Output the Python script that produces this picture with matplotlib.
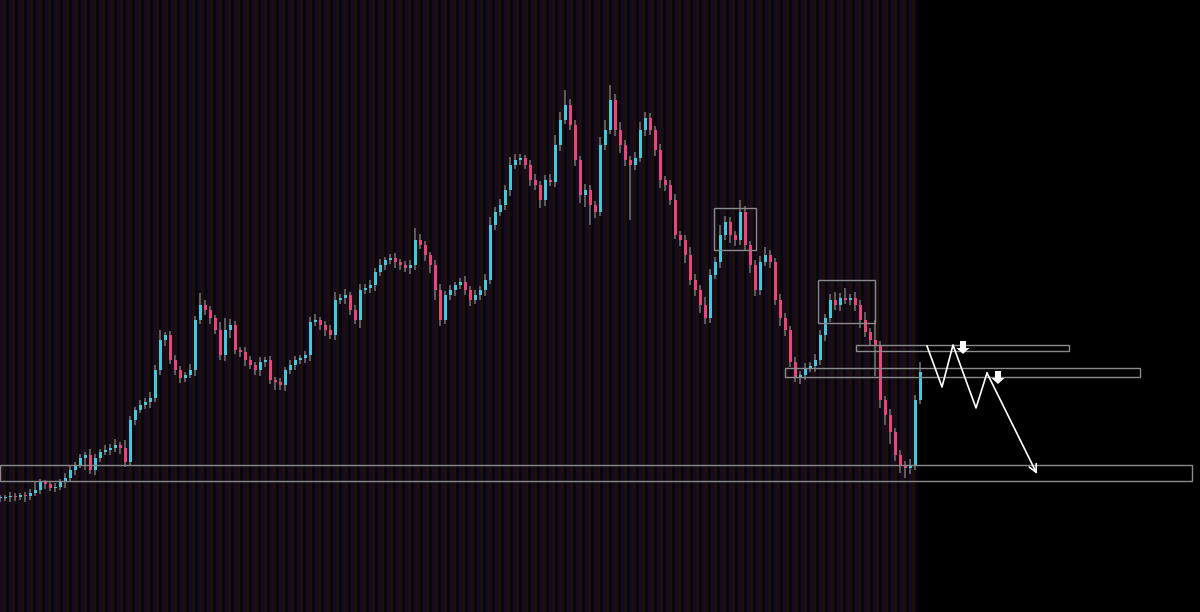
# Grafico de velas con zonas y proyeccion
import numpy as np
import matplotlib.pyplot as plt
from matplotlib.patches import Rectangle

# DATOS (cierres, una vela cada 5 unidades de x)
cierres = [114, 115, 116, 115, 117, 116, 119, 122, 130, 128, 124, 125, 130, 134, 142, 147, 154, 157, 142, 154,
           160, 162, 164, 167, 164, 150, 192, 202, 207, 210, 214, 242, 272, 277, 252, 242, 234, 237, 242, 292,
           307, 302, 294, 282, 257, 282, 287, 262, 260, 252, 247, 242, 250, 252, 232, 230, 227, 242, 247, 252,
           254, 257, 290, 292, 287, 282, 277, 312, 314, 317, 302, 292, 322, 324, 327, 340, 347, 352, 354, 350,
           347, 344, 347, 372, 367, 357, 347, 322, 292, 317, 322, 327, 330, 322, 312, 317, 322, 332, 387, 400,
           407, 422, 447, 452, 454, 447, 432, 427, 412, 432, 430, 467, 492, 507, 487, 452, 417, 422, 407, 400,
           467, 482, 512, 482, 467, 452, 447, 454, 482, 494, 482, 462, 432, 427, 412, 377, 372, 357, 332, 322,
           307, 294, 337, 350, 377, 390, 377, 372, 400, 367, 347, 322, 350, 357, 350, 312, 294, 282, 250, 234,
           237, 244, 246, 252, 277, 294, 312, 307, 314, 312, 314, 307, 292, 280, 272, 266, 212, 197, 180, 157,
           147, 144, 147, 212, 240]

mecha_sup = [3, 2, 4, 3, 2, 3, 4, 8, 3, 2, 3, 4, 3, 5, 4, 3, 4, 3, 6, 4,
             3, 5, 4, 6, 3, 8, 4, 3, 5, 4, 6, 5, 10, 3, 4, 5, 4, 3, 6, 4,
             12, 5, 4, 3, 8, 12, 6, 4, 3, 5, 4, 3, 5, 3, 4, 3, 4, 3, 5, 4,
             3, 4, 5, 6, 3, 4, 5, 8, 4, 6, 3, 5, 6, 4, 5, 4, 6, 3, 4, 5,
             3, 4, 5, 12, 6, 4, 3, 5, 6, 4, 5, 3, 4, 6, 4, 5, 4, 6, 8, 5,
             6, 5, 8, 6, 4, 3, 5, 6, 4, 5, 6, 10, 8, 15, 6, 5, 4, 6, 5, 4,
             8, 10, 15, 6, 8, 5, 4, 6, 8, 6, 5, 4, 6, 4, 5, 6, 4, 5, 8, 6,
             5, 8, 6, 5, 10, 6, 5, 4, 12, 6, 4, 5, 6, 8, 5, 4, 6, 5, 4, 5,
             4, 5, 4, 6, 5, 4, 6, 8, 5, 10, 4, 6, 5, 8, 4, 20, 5, 4, 6, 4,
             5, 4, 6, 5, 10]

mecha_inf = [4, 3, 5, 4, 3, 6, 4, 3, 4, 5, 3, 4, 3, 6, 4, 5, 3, 12, 4, 5,
             4, 3, 5, 4, 6, 5, 4, 5, 3, 4, 6, 4, 5, 6, 4, 5, 5, 4, 3, 6,
             4, 5, 6, 4, 5, 6, 8, 4, 5, 6, 4, 5, 6, 5, 4, 8, 5, 6, 4, 5,
             4, 5, 6, 4, 5, 6, 4, 5, 4, 6, 5, 4, 8, 4, 5, 6, 4, 5, 4, 6,
             5, 4, 6, 5, 4, 6, 8, 10, 6, 4, 5, 6, 4, 5, 6, 4, 5, 6, 4, 5,
             4, 5, 6, 4, 5, 4, 6, 5, 8, 6, 4, 5, 6, 4, 5, 6, 8, 12, 20, 6,
             4, 5, 4, 6, 8, 6, 55, 5, 4, 6, 5, 6, 8, 6, 5, 4, 6, 8, 5, 6,
             8, 6, 5, 4, 6, 5, 8, 6, 5, 6, 8, 6, 5, 4, 6, 5, 8, 6, 5, 4,
             6, 5, 4, 6, 5, 6, 4, 5, 6, 4, 5, 6, 8, 5, 6, 30, 8, 10, 12, 6,
             8, 10, 6, 5, 4]

# zonas: (x0, x1, precio_bajo, precio_alto)
zonas = [(0, 1192, 131, 147), (785, 1140, 235, 244), (856, 1069, 261, 267)]
cajas = [(714, 756, 362, 404), (818, 875, 289, 332)]

# proyeccion en zigzag
zig_x = [927, 942, 953, 976, 987, 1037]
zig_y = [266, 225, 267, 204, 239, 138]
flechas = [(963, 271), (998, 241)]

# PROCEDIMIENTO
c = np.array(cierres, dtype=float)
o = np.concatenate(([c[0]], c[:-1]))
hi = np.maximum(o, c) + np.array(mecha_sup)
lo = np.minimum(o, c) - np.array(mecha_inf)
x = np.arange(len(c)) * 5.0
sube = c >= o
cuerpo = np.where(np.abs(c - o) < 1, 1, c - o)

fig = plt.figure(figsize=(12, 6.12), dpi=100, facecolor='black')
ax = fig.add_axes([0, 0, 1, 1])
ax.set_facecolor('black')
ax.set_xlim(0, 1200)
ax.set_ylim(0, 612)
ax.axis('off')

# franjas de fondo
colores_franja = ['#180a22', '#1c1009', '#07070f']
k = 0
for xs in np.arange(0, 918, 3):
    ax.axvspan(xs, xs + 3, color=colores_franja[k % 3], lw=0, zorder=0)
    k += 1

# velas
ax.vlines(x, lo, hi, color='#5e5e5e', lw=1.4, zorder=2)
ax.bar(x[sube], cuerpo[sube], bottom=o[sube], width=3, color='#45c8dc', lw=0, zorder=3)
ax.bar(x[~sube], cuerpo[~sube], bottom=o[~sube], width=3, color='#e8457a', lw=0, zorder=3)

# zonas y cajas
for x0, x1, y0, y1 in zonas + cajas:
    ax.add_patch(Rectangle((x0, y0), x1 - x0, y1 - y0, fill=False,
                           edgecolor='#8a8a8a', lw=1, zorder=4))

# zigzag
ax.plot(zig_x[:-1], zig_y[:-1], color='white', lw=1.2, zorder=5)
ax.annotate('', xy=(zig_x[-1], zig_y[-1]), xytext=(zig_x[-2], zig_y[-2]),
            arrowprops=dict(arrowstyle='->', color='white', lw=1.2,
                            mutation_scale=14, shrinkA=0, shrinkB=0), zorder=5)

for fx, fy in flechas:
    ax.arrow(fx, fy, 0, -13, width=6, head_width=13, head_length=6,
             color='white', lw=0, length_includes_head=True, zorder=6)

plt.savefig('out.png', dpi=100, facecolor='black')
